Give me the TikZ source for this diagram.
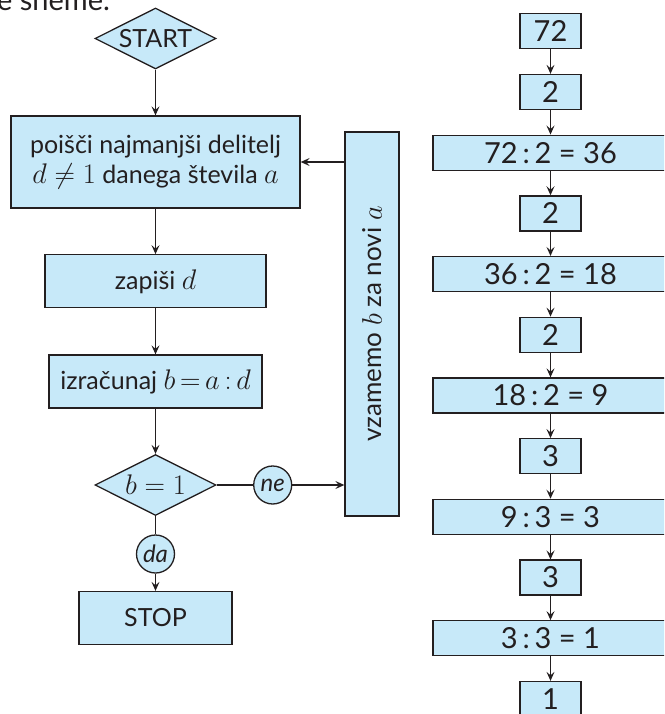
\documentclass[tikz,border=0pt]{standalone}
\usepackage{fontspec}
\usepackage{graphicx}
\setmainfont{Lato}
\usetikzlibrary{shapes.geometric,arrows.meta}
\definecolor{fillblue}{RGB}{199,233,249}
\definecolor{ink}{RGB}{35,31,32}
\newcommand{\mymath}[1]{\scalebox{1.14}{$#1$}}
\begin{document}
\begin{tikzpicture}[x=1pt,y=-1pt,
  every node/.style={text=ink},
  box/.style={draw=ink, fill=fillblue, line width=1.3pt, inner sep=0pt, align=center,
    font=\fontsize{25}{30}\selectfont},
  rbox/.style={box, minimum height=35pt, font=\fontsize{29}{32}\selectfont},
  nbox/.style={rbox, minimum width=61pt},
  wbox/.style={rbox, minimum width=235pt},
  dia/.style={box, shape=diamond, aspect=2, inner sep=1pt, minimum width=121pt, minimum height=61pt},
  circ/.style={box, shape=circle, minimum size=38pt, font=\fontsize{24}{26}\selectfont\itshape},
  conn/.style={draw=ink, line width=1.2pt},
  arr/.style={conn, -{Stealth[length=9pt,width=8pt,inset=3.5pt]}}
]
\useasboundingbox (0,0) rectangle (664,714);
\clip (0,0) rectangle (664,714);
% caption fragment
\node[anchor=base west, inner sep=0pt, font=\fontsize{29}{32}\selectfont] (cap) at (-3,11) {e sheme.};
% left flow chart
\node[dia] (start) at (155.5,38.5) {START};
\node[box, minimum width=289pt, minimum height=92pt] (find) at (155.5,162) {poišči najmanjši delitelj\\\mymath{d \neq 1} danega števila \mymath{a}};
\node[box, minimum width=221pt, minimum height=53pt] (write) at (155.5,281.3) {zapiši \mymath{d}};
\node[box, minimum width=213pt, minimum height=53pt] (calc) at (155.5,381.5) {izračunaj \mymath{b\mskip3mu{=}\mskip3mu a\mskip3mu{:}\mskip3mu d}};
\node[dia] (dec) at (155.5,485) {\mymath{b = 1}};
\node[circ] (da) at (155.5,554) {da};
\node[box, minimum width=153pt, minimum height=53pt] (stop) at (155.5,618) {STOP};
\node[circ] (ne) at (272.7,485) {ne};
\node[box, minimum width=54pt, minimum height=384pt, font=\fontsize{26}{30}\selectfont] (vbox) at (372,324) {\rotatebox{90}{vzamemo \mymath{b} za novi \mymath{a}}};
\draw[arr] (start) -- (find);
\draw[arr] (find) -- (write);
\draw[arr] (write) -- (calc);
\draw[arr] (calc) -- (dec);
\draw[conn] (dec) -- (da);
\draw[arr] (da) -- (stop);
\draw[conn] (dec) -- (ne);
\draw[arr] (ne) -- (ne -| vbox.west);
\draw[arr] (find.east -| vbox.west) -- (find.east);
% right column
\node[nbox] (r0) at (550.5,31.3) {72};
\node[nbox] (r1) at (550.5,92.0) {2};
\node[wbox] (r2) at (550.5,152.7) {72\,:\,2 = 36};
\node[nbox] (r3) at (550.5,213.4) {2};
\node[wbox] (r4) at (550.5,274.1) {36\,:\,2 = 18};
\node[nbox] (r5) at (550.5,334.8) {2};
\node[wbox] (r6) at (550.5,395.5) {18\,:\,2 = 9};
\node[nbox] (r7) at (550.5,456.2) {3};
\node[wbox] (r8) at (550.5,516.9) {9\,:\,3 = 3};
\node[nbox] (r9) at (550.5,577.6) {3};
\node[wbox] (r10) at (550.5,638.3) {3\,:\,3 = 1};
\node[nbox] (r11) at (550.5,699.0) {1};
\foreach \a/\b in {r0/r1,r1/r2,r2/r3,r3/r4,r4/r5,r5/r6,r6/r7,r7/r8,r8/r9,r9/r10,r10/r11}
  \draw[arr] (\a) -- (\b);
\end{tikzpicture}
\end{document}
